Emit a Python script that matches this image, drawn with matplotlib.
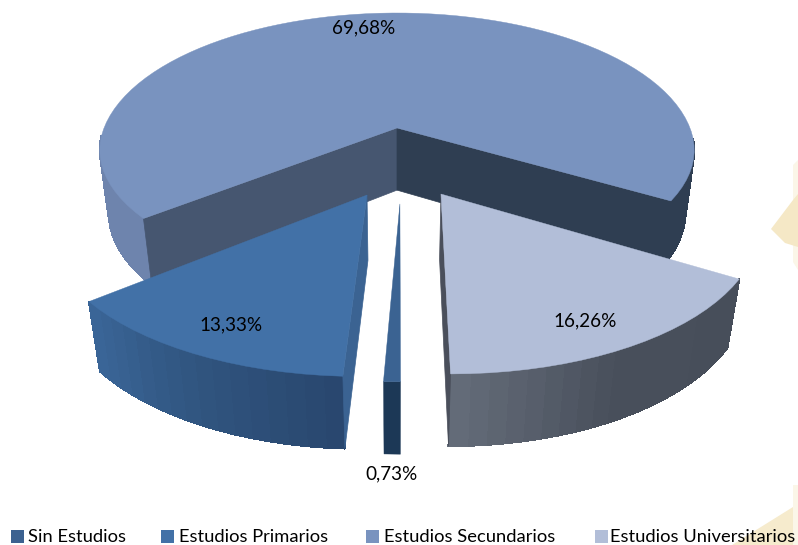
import numpy as np
import matplotlib
matplotlib.use('Agg')
import matplotlib.pyplot as plt
from matplotlib.colors import to_rgb

categories = ['Sin Estudios', 'Estudios Primarios', 'Estudios Secundarios', 'Estudios Universitarios']
percent = [0.73, 13.33, 69.68, 16.26]

# how far each slice is pulled out of the pie, in pie radii (x, towards viewer)
pull = [(0.009, 0.509), (-0.094, 0.454), (0.0, 0.0), (0.138, 0.448)]
radius = [0.95, 0.985, 1.0, 0.98]

top_colors = ['#3B6392', '#4271A7', '#7993BF', '#B2BED8']
legend_colors = ['#3B6190', '#4271A7', '#7993BF', '#B2BED8']
wall_stops = [
    [(0, '#1C3856'), (1, '#1C3856')],
    [(0, '#28466E'), (0.5, '#30557F'), (1, '#3B6699')],
    [(0, '#6E84AD'), (0.5, '#6E84AD'), (0.501, '#2F3E52'), (1, '#2F3E52')],
    [(0, '#474E5A'), (0.55, '#484F5B'), (1, '#656D7A')],
]
label_xy = [(391, 474), (231, 325), (364, 28), (585, 321)]
legend_box_x = [11, 161, 366, 595]
legend_text_x = [28, 179, 384, 610]

# perspective of the pie, in pixels of the picture
CX, CY = 397, 128
F, G, K = 293.0, 135.6, 0.179
DEPTH, SHRINK = 64.0, 0.03
FRONT_SQUASH = 0.94


def project(x, y, z=0):
    w = 1 - K * np.asarray(y) + SHRINK * z
    return CX + F * np.asarray(x) / w, CY + (G * np.asarray(y) + DEPTH * z) / w


def rim(i, t):
    t = np.radians(t)
    c = np.cos(t)
    c = np.where(c > 0, c * FRONT_SQUASH, c)
    return pull[i][0] + radius[i] * np.sin(t), pull[i][1] + radius[i] * c


def wall_color(stops, frac):
    pos = [s[0] for s in stops]
    rgb = np.array([to_rgb(s[1]) for s in stops])
    return [np.interp(frac, pos, rgb[:, c]) for c in range(3)]


def side_face(ax, i, t, color, z):
    ax0, ay0 = pull[i]
    x1, y1 = rim(i, t)
    p = [project(ax0, ay0, 0), project(x1, y1, 0), project(x1, y1, 1), project(ax0, ay0, 1)]
    ax.fill([q[0] for q in p], [q[1] for q in p], color=color, lw=0.5, zorder=z)


fig = plt.figure(figsize=(7.98, 5.45), dpi=100)
plt.rcParams['font.family'] = ['Lato', 'DejaVu Sans']
ax = fig.add_axes([0, 0, 1, 1])
ax.set_xlim(0, 798)
ax.set_ylim(545, 0)
ax.axis('off')

# pale watermark behind the chart
ax.fill([793, 798, 798, 793], [165, 160, 270, 262], color='#FBF6E8', lw=0, zorder=0)
ax.fill([771, 793, 798, 798, 785], [229, 200, 194, 247, 243], color='#F5E8C6', lw=0, zorder=0)
ax.fill([793, 798, 798, 793], [485, 485, 545, 545], color='#FBF6E8', lw=0, zorder=0)
ax.fill([732, 793, 793], [545, 507, 545], color='#F6EBCD', lw=0, zorder=0)

# slice limits, clockwise from straight down
edges = -np.cumsum([0] + percent) * 3.6

draw_order = [2, 3, 1, 0]
for n, i in enumerate(draw_order):
    z = 1 + n * 10
    t0, t1 = edges[i], edges[i + 1]
    ts = np.linspace(t0, t1, int(abs(t1 - t0) / 3) + 2)
    xs, ys = rim(i, ts)
    single = len(ts) == 2

    # outer wall as thin strips for the shading, the back of the pie never shows
    for j in range(len(ts) - 1):
        if np.cos(np.radians(ts[j])) < 0.1 and np.cos(np.radians(ts[j + 1])) < 0.1:
            continue
        xa, ya = project(xs[j:j + 2], ys[j:j + 2], 0)
        xb, yb = project(xs[j:j + 2], ys[j:j + 2], 1)
        col = wall_color(wall_stops[i], (j + 0.5) / (len(ts) - 1))
        ax.fill(np.r_[xa, xb[::-1]], np.r_[ya, yb[::-1]], color=col,
                lw=0.3 if single else 0.8, antialiased=single, zorder=z)

    # cut faces that can be seen
    if i == 2:
        side_face(ax, i, t0, '#465670', z + 1)
        side_face(ax, i, t1, '#2F3E52', z + 1)
    if i == 1:
        side_face(ax, i, t0, '#3B6392', z + 1)
    if i == 3:
        side_face(ax, i, t1, '#4A4F5B', z + 1)

    # top face
    px, py = project(np.r_[pull[i][0], xs], np.r_[pull[i][1], ys], 0)
    ax.fill(px, py, color=top_colors[i], lw=0.3, zorder=z + 2)

for i, v in enumerate(percent):
    ax.text(label_xy[i][0], label_xy[i][1], f'{v:.2f}'.replace('.', ',') + '%', fontsize=13.6,
            ha='center', va='center', color='black', zorder=60)

for i, name in enumerate(categories):
    ax.fill([legend_box_x[i], legend_box_x[i] + 13, legend_box_x[i] + 13, legend_box_x[i]],
            [530, 530, 543, 543], color=legend_colors[i], lw=0, zorder=60)
    ax.text(legend_text_x[i], 537, name, fontsize=13.2, ha='left', va='center', color='black', zorder=60)

fig.savefig('out.png', dpi=100)
